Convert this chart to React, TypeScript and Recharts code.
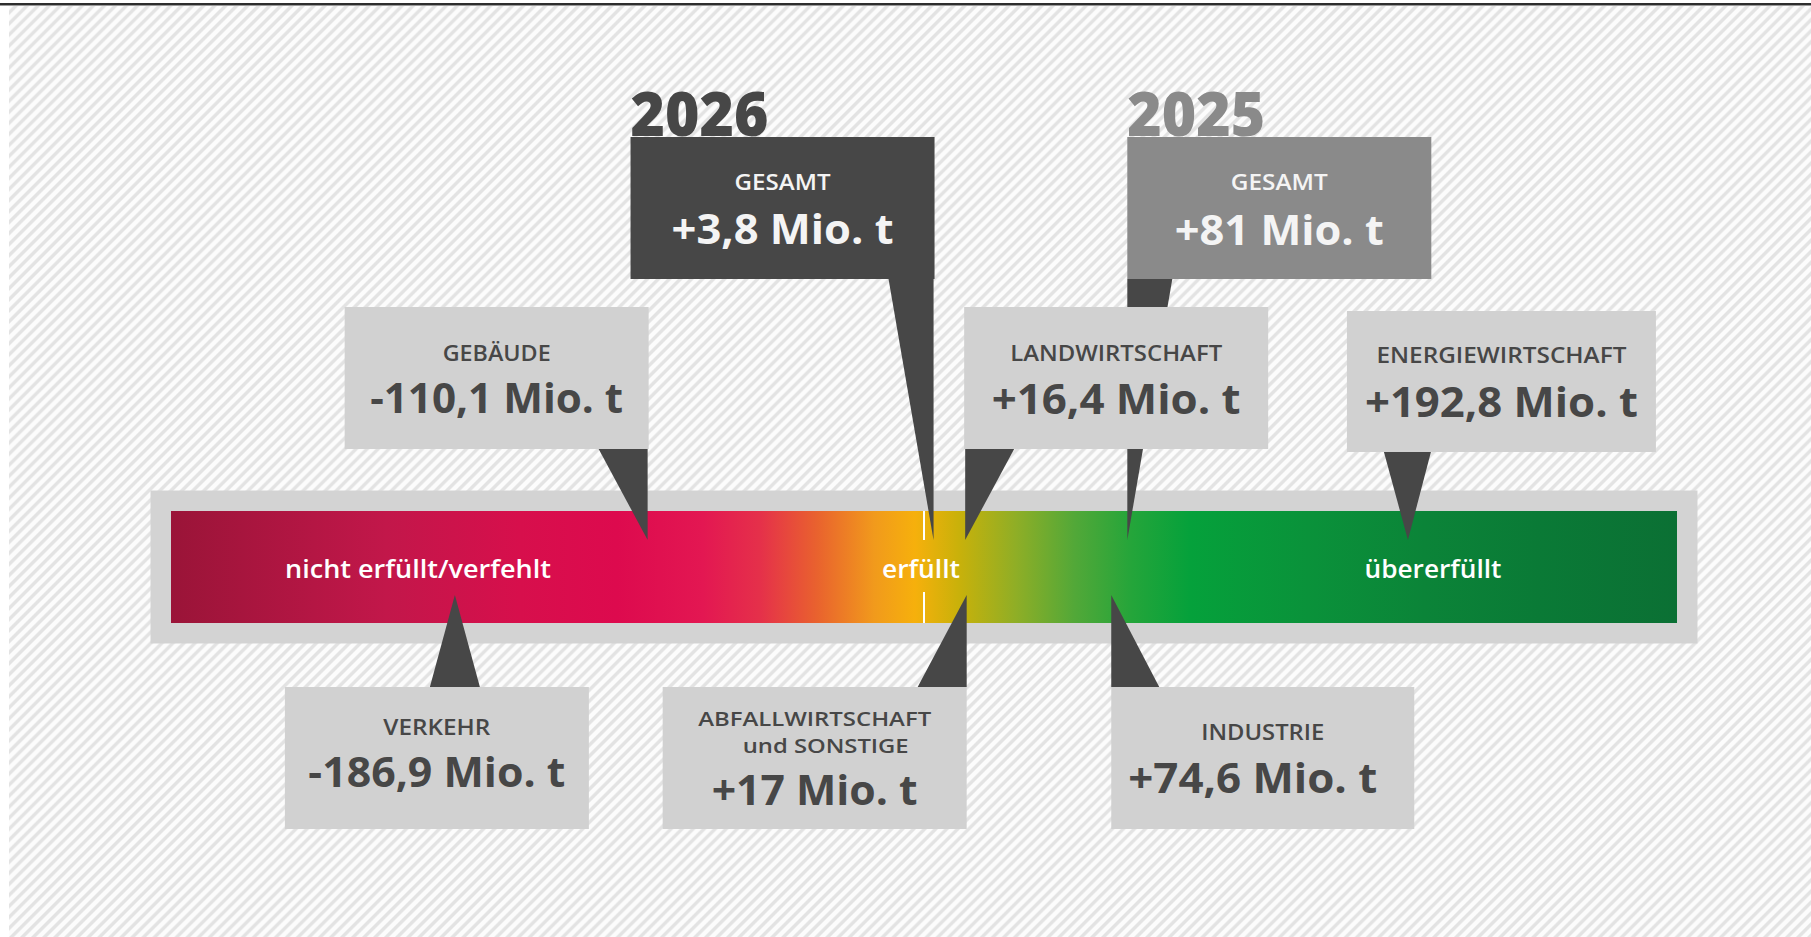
import React from 'react'
import { ComposedChart, XAxis, YAxis, Scatter, ReferenceArea, ReferenceLine } from 'recharts'

// Sektorziele: Abweichung vom Zielpfad in Mio. t CO2-Äq. (negativ = verfehlt)
const SECTOR_NAMES = ['GEBÄUDE', 'VERKEHR', 'ABFALLWIRTSCHAFT\nund SONSTIGE', 'LANDWIRTSCHAFT', 'INDUSTRIE', 'ENERGIEWIRTSCHAFT']
const SECTOR_VALUES = [-110.1, -186.9, 17, 16.4, 74.6, 192.8]
const TOTAL_YEARS = ['2026', '2025']
const TOTAL_VALUES = [3.8, 81]
const ZONE_LABELS = ['nicht erfüllt/verfehlt', 'erfüllt', 'übererfüllt']
const ZONE_AT = [-200, 0, 200]
const SCALE_DOMAIN: [number, number] = [-300, 300]

const W = 1811
const H = 937
const FONT = '"Open Sans", "Noto Sans", sans-serif'
const DARK = '#474747'
const BOX = '#d1d1d1'
const FRAME = '#d3d3d3'

// colour ramp of the fulfilment bar (offset = share of bar width)
const RAMP: [number, string][] = [
  [0, '#9a1438'], [0.143, '#c2174a'], [0.232, '#d70f4c'], [0.296, '#dd0a4e'], [0.353, '#e31752'],
  [0.391, '#e5304a'], [0.429, '#e9622e'], [0.467, '#f19a1c'], [0.494, '#f6b00c'], [0.523, '#c9b10a'],
  [0.561, '#8fae26'], [0.6, '#52a838'], [0.638, '#24a53a'], [0.677, '#05a13b'], [0.755, '#0a923a'],
  [0.832, '#0b8438'], [0.909, '#0a7a36'], [1, '#0b7034'],
]

type Line = { dy: number; w: number; dx?: number; size?: number }
type Layout = {
  side: 'top' | 'bottom'
  box: [number, number] // box left/right, relative to pointer tip
  base: [number, number] // pointer base, relative to pointer tip
  gap: number // distance bar edge -> box
  h: number
  fill: string
  ink: string
  lines: Line[]
  yearW?: number
}

const SECTOR_LAYOUT: Layout[] = [
  { side: 'top', box: [-303, 1], base: [-49, 0], gap: 62, h: 142, fill: BOX, ink: DARK, lines: [{ dy: 54, w: 108 }, { dy: 106, w: 253 }] },
  { side: 'bottom', box: [-170, 134], base: [-25, 25], gap: 64, h: 142, fill: BOX, ink: DARK, lines: [{ dy: 48, w: 107 }, { dy: 100, w: 257 }] },
  {
    side: 'bottom', box: [-304, 0], base: [-49, 0], gap: 64, h: 142, fill: BOX, ink: DARK,
    lines: [{ dy: 39, w: 233, size: 20 }, { dy: 66, w: 166, dx: 11, size: 20 }, { dy: 118, w: 206 }],
  },
  { side: 'top', box: [-1, 303], base: [0, 49], gap: 62, h: 142, fill: BOX, ink: DARK, lines: [{ dy: 54, w: 212 }, { dy: 107, w: 249 }] },
  { side: 'bottom', box: [0, 303], base: [0, 48], gap: 64, h: 142, fill: BOX, ink: DARK, lines: [{ dy: 53, w: 123 }, { dy: 106, w: 249, dx: -10 }] },
  { side: 'top', box: [-61, 248], base: [-24, 23], gap: 59, h: 141, fill: BOX, ink: DARK, lines: [{ dy: 52, w: 250 }, { dy: 106, w: 273 }] },
]

const TOTAL_LAYOUT: Layout[] = [
  { side: 'top', box: [-303, 1], base: [-45, 0], gap: 232, h: 142, fill: DARK, ink: '#f4f4f4', lines: [{ dy: 53, w: 96 }, { dy: 107, w: 222 }], yearW: 138 },
  { side: 'top', box: [0, 304], base: [0, 45], gap: 232, h: 142, fill: '#8a8a8a', ink: '#f4f4f4', lines: [{ dy: 53, w: 97 }, { dy: 108, w: 209 }], yearW: 138 },
]

const ZONE_LAYOUT = [
  { w: 266, dx: -4 },
  { w: 78, dx: -3 },
  { w: 137, dx: 7 },
]

const fmt = (v: number) => `${v > 0 ? '+' : '-'}${String(Math.abs(v)).replace('.', ',')} Mio. t`

const sectorData = SECTOR_NAMES.map((name, i) => ({
  x: SECTOR_VALUES[i],
  y: SECTOR_LAYOUT[i].side === 'top' ? 1 : -1,
  label: name.split('\n'),
  value: fmt(SECTOR_VALUES[i]),
  layout: SECTOR_LAYOUT[i],
}))

const totalData = TOTAL_YEARS.map((year, i) => ({
  x: TOTAL_VALUES[i],
  y: 1,
  year,
  label: ['GESAMT'],
  value: fmt(TOTAL_VALUES[i]),
  layout: TOTAL_LAYOUT[i],
}))

const zoneData = ZONE_LABELS.map((label, i) => ({ x: ZONE_AT[i], y: 0, label, layout: ZONE_LAYOUT[i] }))

function CalloutShape(props: any) {
  const { cx, cy, payload } = props
  const L: Layout = payload.layout
  const up = L.side === 'top'
  const tipY = up ? cy + 29 : cy - 28
  const edgeY = up ? cy - L.gap : cy + L.gap
  const top = up ? edgeY - L.h : edgeY
  const x0 = cx + L.box[0]
  const x1 = cx + L.box[1]
  const mid = (x0 + x1) / 2
  const texts: string[] = [...payload.label, payload.value]
  return (
    <g>
      <polygon points={`${cx + L.base[0]},${edgeY} ${cx + L.base[1]},${edgeY} ${cx},${tipY}`} fill={DARK} />
      <rect x={x0} y={top} width={x1 - x0} height={L.h} fill={L.fill} />
      {payload.year && (
        <text x={x0} y={top - 1} fontFamily={FONT} fontSize={62} fontWeight={800} fill={L.fill} textLength={L.yearW} lengthAdjust="spacingAndGlyphs">
          {payload.year}
        </text>
      )}
      {texts.map((t, k) => {
        const isValue = k === texts.length - 1
        const ln = L.lines[k]
        return (
          <text
            key={k}
            x={mid + (ln.dx ?? 0)}
            y={top + ln.dy}
            textAnchor="middle"
            fontFamily={FONT}
            fontSize={ln.size ?? (isValue ? 42 : 22)}
            fontWeight={isValue ? 700 : 600}
            fill={L.ink}
            textLength={ln.w}
            lengthAdjust="spacingAndGlyphs"
          >
            {t}
          </text>
        )
      })}
    </g>
  )
}

function ZoneShape(props: any) {
  const { cx, cy, payload } = props
  return (
    <text
      x={cx + payload.layout.dx}
      y={cy + 11}
      textAnchor="middle"
      fontFamily={FONT}
      fontSize={26}
      fontWeight={600}
      fill="#ffffff"
      textLength={payload.layout.w}
      lengthAdjust="spacingAndGlyphs"
    >
      {payload.label}
    </text>
  )
}

export default function App() {
  return (
    <div style={{ position: 'absolute', left: 0, top: 0, width: W, height: H, background: '#fff', overflow: 'hidden' }}>
      <div style={{ position: 'absolute', left: 0, top: 3, width: W, height: 2, background: '#2e2e2e' }} />
      <div style={{ position: 'absolute', left: 0, top: 5, width: W, height: 1, background: '#9a9a9a' }} />
      <div
        style={{
          position: 'absolute',
          left: 9,
          top: 6,
          right: 0,
          bottom: 0,
          background:
            'repeating-linear-gradient(135deg, #fcfcfc 0px, #fcfcfc 2.4px, #e3e3e3 3.8px, #e3e3e3 5.8px, #fcfcfc 7.2px, #fcfcfc 7.8px)',
        }}
      />
      <div style={{ position: 'absolute', left: 0, top: 0 }}>
        <ComposedChart width={W} height={H} margin={{ top: 511, bottom: 314, left: 171, right: 134 }}>
          <defs>
            <linearGradient id="fulfil" x1="0" y1="0" x2="1" y2="0">
              {RAMP.map(([o, c]) => (
                <stop key={o} offset={o} stopColor={c} />
              ))}
            </linearGradient>
          </defs>
          <XAxis type="number" dataKey="x" domain={SCALE_DOMAIN} hide />
          <YAxis type="number" dataKey="y" domain={[-1, 1]} hide />
          <ReferenceArea x1={SCALE_DOMAIN[0]} x2={SCALE_DOMAIN[1]} fill={FRAME} fillOpacity={1} stroke={FRAME} strokeWidth={41} ifOverflow="visible" zIndex={-30} />
          <ReferenceArea x1={SCALE_DOMAIN[0]} x2={SCALE_DOMAIN[1]} fill="url(#fulfil)" fillOpacity={1} ifOverflow="visible" zIndex={-20} />
          <ReferenceLine x={0} stroke="#ffffff" strokeWidth={2} strokeDasharray="31 52 29" zIndex={-10} />
          <Scatter data={zoneData} shape={ZoneShape} isAnimationActive={false} />
          <Scatter data={totalData} shape={CalloutShape} isAnimationActive={false} />
          <Scatter data={sectorData} shape={CalloutShape} isAnimationActive={false} />
        </ComposedChart>
      </div>
    </div>
  )
}
